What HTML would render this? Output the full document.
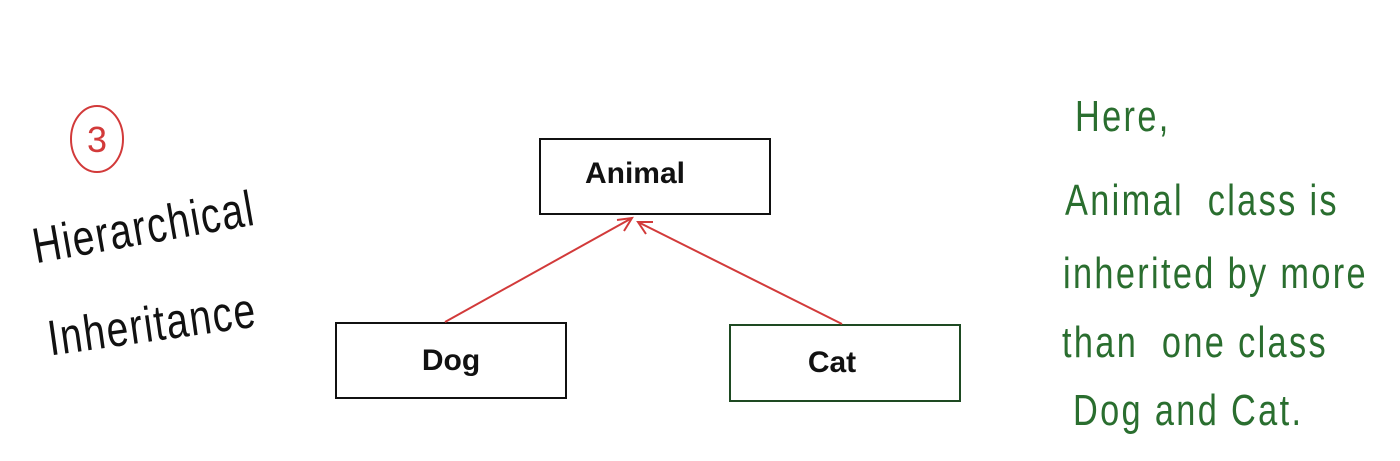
<!DOCTYPE html>
<html><head><style>
body{margin:0;width:1400px;height:461px;background:#fff;position:relative;overflow:hidden;font-family:"Liberation Sans",sans-serif}
.box{position:absolute;border:2px solid #111;box-sizing:border-box;display:flex;align-items:center;justify-content:center;font-weight:bold;font-size:30px;color:#111}
.h{position:absolute;font-family:"Liberation Sans Narrow","Liberation Sans",sans-serif;color:#2a6e2f;font-size:44px;white-space:nowrap;letter-spacing:3px;transform:scaleX(0.78);transform-origin:left top}
.k{position:absolute;font-family:"Liberation Sans Narrow","Liberation Sans",sans-serif;color:#111;font-size:50px;white-space:nowrap;letter-spacing:2px;transform-origin:left top}
</style></head><body>
<div class="box" style="left:539px;top:138px;width:232px;height:77px;padding-right:40px;padding-bottom:6px">Animal</div>
<div class="box" style="left:335px;top:322px;width:232px;height:77px">Dog</div>
<div class="box" style="left:729px;top:324px;width:232px;height:78px;border-color:#1e4a22;padding-right:26px">Cat</div>
<svg width="1400" height="461" style="position:absolute;left:0;top:0">
<g stroke="#d23a3a" stroke-width="2" fill="none">
<line x1="445" y1="322" x2="632" y2="218"/>
<polyline points="617,220 632,218 624,231"/>
<line x1="842" y1="324" x2="638" y2="222"/>
<polyline points="646,234 638,222 653,222"/>
</g>
<ellipse cx="97" cy="139" rx="26" ry="33" stroke="#d23a3a" stroke-width="2" fill="none"/>
<text x="97" y="152" text-anchor="middle" font-family="Liberation Sans" font-size="36" fill="#d23a3a">3</text>
</svg>
<div class="k" style="left:28px;top:218px;transform:rotate(-10deg) scaleX(0.78)">Hierarchical</div>
<div class="k" style="left:44px;top:310px;transform:rotate(-8deg) scaleX(0.78)">Inheritance</div>
<div class="h" style="left:1075px;top:92px">Here,</div>
<div class="h" style="left:1065px;top:176px">Animal &nbsp;class is</div>
<div class="h" style="left:1063px;top:249px">inherited by more</div>
<div class="h" style="left:1062px;top:318px">than &nbsp;one class</div>
<div class="h" style="left:1073px;top:386px">Dog and Cat.</div>
</body></html>
